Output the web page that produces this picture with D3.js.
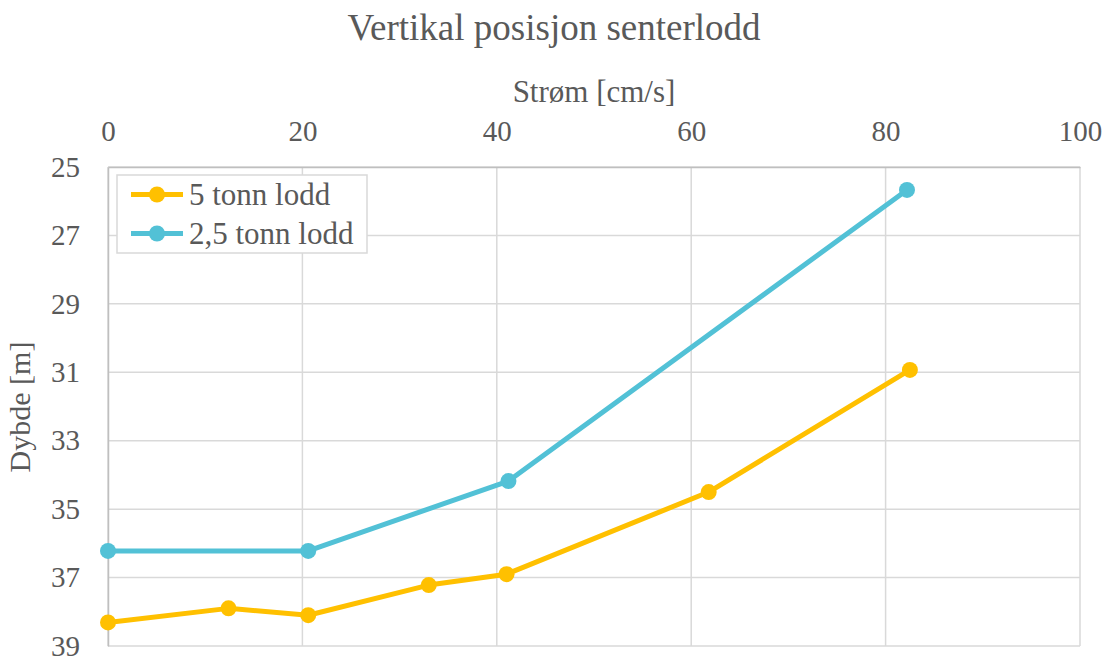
<!DOCTYPE html>
<html><head><meta charset="utf-8">
<script src="https://cdn.jsdelivr.net/npm/d3@7"></script>
<style>body{margin:0;background:#fff}svg{display:block}</style>
</head><body>
<script>
const xTicks = [0, 20, 40, 60, 80, 100];
const yTicks = [25, 27, 29, 31, 33, 35, 37, 39];
const seriesNames = ["5 tonn lodd", "2,5 tonn lodd"];
const seriesColors = ["#FFC000", "#52C1D6"];
const x5 = [0, 12.4, 20.6, 33.0, 41.0, 61.8, 82.5];
const y5 = [38.31, 37.9, 38.1, 37.22, 36.9, 34.5, 30.93];
const x25 = [0, 20.6, 41.2, 82.2];
const y25 = [36.22, 36.22, 34.18, 25.67];
const title = "Vertikal posisjon senterlodd";
const xTitle = "Strøm [cm/s]";
const yTitle = "Dybde [m]";

const W = 1107, H = 657;
const L = 108, R = 1080, T = 167, B = 646;
const font = "'Liberation Serif', 'DejaVu Serif', serif";
const txt = "#595959";
const svg = d3.select("body").append("svg").attr("width", W).attr("height", H);
const x = d3.scaleLinear().domain([0, 100]).range([L, R]);
const y = d3.scaleLinear().domain([25, 39]).range([T, B]);

// gridlines
svg.append("g").selectAll("line").data(yTicks).join("line")
  .attr("x1", L).attr("x2", R).attr("y1", d => y(d)).attr("y2", d => y(d))
  .attr("stroke", "#d9d9d9").attr("stroke-width", 1.5);
svg.append("g").selectAll("line").data(xTicks).join("line")
  .attr("y1", T).attr("y2", B).attr("x1", d => x(d)).attr("x2", d => x(d))
  .attr("stroke", "#d9d9d9").attr("stroke-width", 1.5);

// axes
const xAxis = svg.append("g").attr("transform", `translate(0,${T})`)
  .call(d3.axisTop(x).tickValues(xTicks).tickSize(0).tickPadding(26));
xAxis.select(".domain").attr("stroke", "#bfbfbf").attr("stroke-width", 1.5);
xAxis.selectAll("text").attr("font-family", font).attr("font-size", 29).attr("fill", txt);
const yAxis = svg.append("g").attr("transform", `translate(${L},0)`)
  .call(d3.axisLeft(y).tickValues(yTicks).tickSize(0).tickPadding(28));
yAxis.select(".domain").attr("stroke", "#bfbfbf").attr("stroke-width", 1.5);
yAxis.selectAll("text").attr("font-family", font).attr("font-size", 29).attr("fill", txt);

// titles
svg.append("text").attr("x", 554).attr("y", 40).attr("text-anchor", "middle")
  .attr("font-family", font).attr("font-size", 37).attr("fill", txt).text(title);
svg.append("text").attr("x", (L + R) / 2).attr("y", 102).attr("text-anchor", "middle")
  .attr("font-family", font).attr("font-size", 31).attr("fill", txt).text(xTitle);
svg.append("text").attr("transform", `translate(30,407) rotate(-90)`).attr("text-anchor", "middle")
  .attr("font-family", font).attr("font-size", 30).attr("fill", txt).text(yTitle);

// series
const series = [
  { name: seriesNames[0], color: seriesColors[0], pts: x5.map((v, i) => [v, y5[i]]) },
  { name: seriesNames[1], color: seriesColors[1], pts: x25.map((v, i) => [v, y25[i]]) }
];
const line = d3.line().x(d => x(d[0])).y(d => y(d[1]));
series.forEach(s => {
  svg.append("path").datum(s.pts).attr("d", line).attr("fill", "none")
    .attr("stroke", s.color).attr("stroke-width", 5).attr("stroke-linejoin", "round");
  svg.append("g").selectAll("circle").data(s.pts).join("circle")
    .attr("cx", d => x(d[0])).attr("cy", d => y(d[1])).attr("r", 8).attr("fill", s.color);
});

// legend
const lg = svg.append("g");
lg.append("rect").attr("x", 117).attr("y", 175).attr("width", 250).attr("height", 78)
  .attr("fill", "#fff").attr("stroke", "#d9d9d9").attr("stroke-width", 1.5);
series.forEach((s, i) => {
  const cy = 194.5 + i * 39;
  lg.append("line").attr("x1", 131).attr("x2", 183).attr("y1", cy).attr("y2", cy)
    .attr("stroke", s.color).attr("stroke-width", 5);
  lg.append("circle").attr("cx", 157).attr("cy", cy).attr("r", 8).attr("fill", s.color);
  lg.append("text").attr("x", 189).attr("y", cy + 10).attr("font-family", font)
    .attr("font-size", 31).attr("fill", txt).text(s.name);
});
</script>
</body></html>
